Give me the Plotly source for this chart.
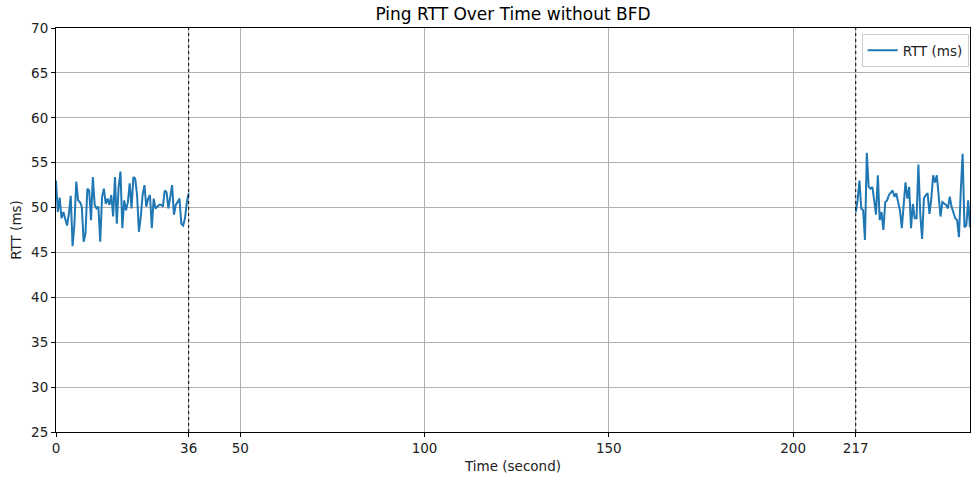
import numpy as np
import plotly.graph_objects as go

# Segment 1: t = 0 .. 36 s (0.5 s step)
seg1_start = 0.0
seg1_vals = [53.0, 49.5, 51.1, 48.8, 49.5, 48.6, 48.0, 49.3, 51.3, 45.7,
             48.2, 52.9, 50.8, 50.6, 50.1, 46.2, 47.1, 52.1, 51.9, 48.6,
             53.4, 50.3, 49.9, 50.1, 46.2, 51.2, 52.1, 50.4, 51.0, 50.3,
             51.4, 49.0, 53.4, 48.2, 52.3, 54.0, 47.7, 50.8, 49.7, 50.6,
             52.7, 49.9, 53.4, 53.2, 51.4, 47.3, 49.0, 51.4, 52.5, 50.1,
             51.0, 51.4, 47.7, 51.0, 49.9, 50.1, 50.3, 50.3, 50.1, 51.9,
             51.7, 49.9, 51.4, 52.5, 49.2, 50.3, 50.6, 51.0, 48.2, 48.0,
             48.8, 50.6, 51.6]
# Segment 2: t = 217 .. 248 s (0.5 s step)
seg2_start = 217.0
seg2_vals = [49.5, 50.8, 53.0, 49.9, 49.7, 46.4, 56.1, 52.3, 52.1, 52.3,
             50.8, 49.2, 53.6, 48.6, 49.5, 47.5, 50.6, 50.8, 51.4, 51.7,
             51.9, 51.2, 51.6, 50.6, 49.7, 47.7, 50.1, 52.8, 51.0, 52.3,
             47.7, 50.4, 48.8, 48.8, 54.8, 49.3, 46.5, 51.0, 51.4, 51.6,
             49.3, 51.0, 53.6, 52.8, 53.6, 51.0, 49.0, 50.6, 50.4, 50.3,
             49.9, 51.2, 50.1, 49.3, 48.8, 48.6, 46.7, 51.9, 56.0, 47.8,
             48.0, 50.8, 47.8, 51.0, 49.0, 50.1, 50.6]
step = 0.5

x_ticks = [0, 36, 50, 100, 150, 200, 217]
y_ticks = list(range(25, 71, 5))
event_times = [36, 217]

t1 = [seg1_start + i * step for i in range(len(seg1_vals))]
t2 = [seg2_start + i * step for i in range(len(seg2_vals))]
xs = t1 + [None] + t2
ys = seg1_vals + [None] + seg2_vals

fig = go.Figure()
fig.add_trace(go.Scatter(x=xs, y=ys, mode="lines", name="RTT (ms)",
                         line=dict(color="#1f77b4", width=2),
                         connectgaps=False, showlegend=True))

for t in event_times:
    fig.add_shape(type="line", x0=t, x1=t, y0=0, y1=1, xref="x", yref="paper",
                  line=dict(color="black", width=1, dash="dot"))

font = "DejaVu Sans, Liberation Sans, sans-serif"
fig.update_layout(
    width=971, height=478,
    margin=dict(l=56, r=1, t=28, b=46),
    paper_bgcolor="white", plot_bgcolor="white",
    font=dict(family=font, size=13.5, color="#222"),
    title=dict(text="Ping RTT Over Time without BFD", x=0.5, xref="paper", xanchor="center",
               y=1 - 14 / 478, yanchor="middle", font=dict(size=17, color="black")),
    showlegend=True,
    legend=dict(x=0.9985, y=0.985, xanchor="right", yanchor="top",
                bordercolor="#cccccc", borderwidth=1, bgcolor="rgba(255,255,255,0.8)",
                font=dict(size=13.5, color="#222")),
)
fig.update_xaxes(range=[0, 248], tickmode="array", tickvals=x_ticks,
                 ticktext=[str(v) for v in x_ticks],
                 showgrid=True, gridcolor="#b0b0b0", gridwidth=1,
                 showline=True, linecolor="black", linewidth=1, mirror=True,
                 ticks="outside", ticklen=4, tickcolor="black",
                 tickfont=dict(size=13.5, color="#222"),
                 zeroline=False,
                 title=dict(text="Time (second)", font=dict(size=13.5, color="#222"), standoff=6))
fig.update_yaxes(range=[25, 70], tickmode="array", tickvals=y_ticks,
                 showgrid=True, gridcolor="#b0b0b0", gridwidth=1,
                 showline=True, linecolor="black", linewidth=1, mirror=True,
                 ticks="outside", ticklen=4, tickcolor="black",
                 tickfont=dict(size=13.5, color="#222"),
                 zeroline=False,
                 title=dict(text="RTT (ms)", font=dict(size=13.5, color="#222"), standoff=6))

fig.write_html("out.html", config={"displayModeBar": False},
               post_script="document.body.style.margin='0';document.body.style.overflow='hidden';")
